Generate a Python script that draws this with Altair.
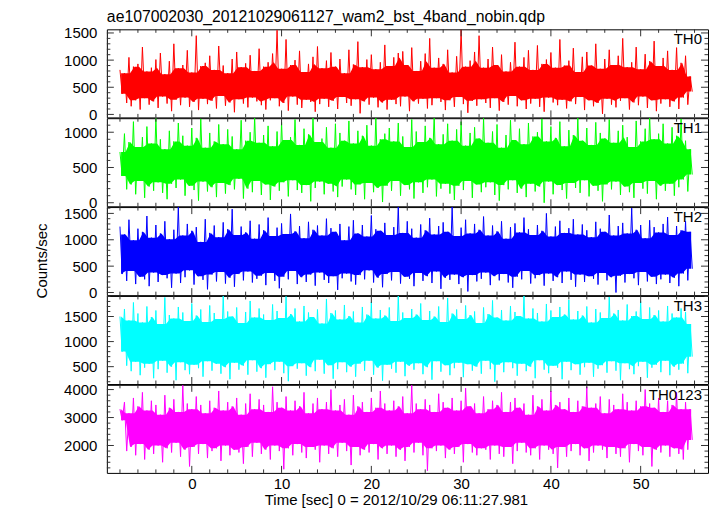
import altair as alt
import pandas as pd

FONT = "Liberation Sans"
TITLE = "ae107002030_20121029061127_wam2_bst_4band_nobin.qdp"
X_TITLE = "Time [sec] 0 = 2012/10/29 06:11:27.981"
Y_TITLE = "Counts/sec"
BANDS = ["TH0", "TH1", "TH2", "TH3", "TH0123"]
COLORS = ["#ff0000", "#00ff00", "#0000ff", "#00ffff", "#ff00ff"]

# light-curve bins: start time and bin width (sec)
T_START = -8.0
T_BIN = 0.25

# alternating local highs / lows read (estimated) from each panel
TH0_HIGH = [820, 760, 1050, 880, 930, 1240, 790, 860, 1010, 1130, 740, 980, 1300, 850, 910, 1180, 770, 1450, 890, 950,
            1080, 820, 1260, 900, 760, 1020, 1150, 870, 940, 1090, 800, 1210, 880, 960, 1120, 1550, 840, 1380, 910, 1000,
            1170, 780, 930, 1060, 1250, 850, 990, 1140, 880, 1020, 760, 1190, 920, 1340, 870, 1010, 1100, 830, 960, 1280,
            890, 1050, 1130, 1160, 910, 1230, 800, 980, 1120, 1400, 860, 1040, 930, 1190, 770, 1070, 1560, 880, 990, 1150,
            1450, 860, 1020, 1240, 910, 1100, 790, 960, 1330, 880, 1050, 1180, 820, 1270, 930, 1010, 1140, 860, 1380, 900,
            990, 1220, 780, 1060, 1150, 900, 1300, 840, 1020, 1190, 910, 1080, 1400, 870, 960, 1240, 830, 1110, 980, 1350,
            890, 1040, 1170, 820, 1230, 950, 1080, 700]
TH0_LOW = [380, 210, 150, 260, 90, 300, 180, 240, 120, 330, 200, 60, 270, 170, 310, 140, 230, 80, 290, 190,
           250, 110, 340, 160, 220, 40, 280, 200, 130, 310, 240, 170, 90, 260, 300, 150, 210, 70, 330, 180,
           120, 270, 230, 50, 190, 290, 140, 250, 100, 320, 210, 160, 280, 20, 240, 180, 310, 130, 220, 90,
           270, 190, 150, 330, 60, 240, 200, 290, 110, 170, 300, 230, 80, 260, 140, 320, 190, 30, 250, 160,
           280, 210, 120, 300, 70, 230, 180, 340, 150, 260, 100, 200, 290, 140, 50, 310, 220, 170, 270, 110,
           240, 190, 320, 80, 260, 150, 210, 10, 290, 180, 130, 250, 300, 90, 220, 170, 330, 120, 260, 60,
           200, 280, 140, 240, 100, 310, 180, 420]

TH1_HIGH = [720, 980, 860, 1150, 790, 930, 1080, 840, 1200, 900, 760, 1020, 870, 1130, 950, 810, 1060, 920, 1190, 780,
            990, 870, 1110, 830, 1040, 940, 760, 1170, 880, 1000, 1220, 850, 960, 1090, 800, 1010, 1140, 890, 930, 1180,
            820, 1050, 970, 1230, 860, 910, 1070, 780, 1120, 990, 880, 1160, 840, 1020, 950, 1100, 810, 1210, 900, 980,
            1060, 870, 1130, 940, 790, 1180, 1010, 860, 1090, 920, 1240, 830, 970, 1120, 880, 1040, 1150, 810, 990, 1070,
            910, 1200, 850, 1010, 1110, 780, 960, 1170, 890, 1050, 830, 1130, 940, 1000, 1190, 870, 1080, 920, 1150, 800,
            1030, 960, 1210, 880, 1060, 820, 1140, 990, 910, 1180, 850, 1020, 1100, 930, 790, 1160, 870, 1050, 1230, 900,
            980, 1120, 840, 1070, 950, 1190, 880, 760]
TH1_LOW = [380, 190, 260, 120, 310, 70, 230, 170, 290, 140, 50, 270, 210, 330, 100, 240, 180, 30, 300, 160,
           220, 80, 280, 130, 250, 190, 340, 60, 200, 150, 310, 110, 260, 40, 230, 170, 290, 90, 320, 180,
           140, 250, 20, 210, 300, 120, 270, 160, 80, 230, 330, 190, 110, 260, 50, 280, 150, 210, 10, 240,
           170, 310, 100, 250, 190, 60, 290, 140, 220, 330, 90, 200, 270, 130, 40, 240, 180, 310, 70, 260,
           150, 220, 290, 110, 30, 250, 190, 320, 140, 200, 80, 270, 160, 230, 0, 300, 120, 250, 180, 60,
           280, 210, 140, 320, 90, 240, 170, 20, 260, 190, 300, 110, 230, 150, 70, 280, 200, 130, 310, 50,
           240, 170, 270, 100, 220, 330, 160, 400]

TH2_HIGH = [1250, 1100, 1380, 990, 1210, 1150, 1450, 1040, 1280, 1120, 1350, 1010, 1190, 1620, 1080, 1300, 1170, 1240, 960, 1390,
            1130, 1270, 1050, 1330, 1200, 1580, 1090, 1250, 1140, 1360, 1020, 1290, 1180, 1420, 1070, 1230, 1310, 1110, 1490, 1160,
            1260, 1030, 1340, 1190, 1270, 1080, 1400, 1220, 1150, 1300, 990, 1250, 1370, 1120, 1280, 1060, 1460, 1200, 1170, 1320,
            1090, 1240, 1640, 1130, 1350, 1210, 1040, 1290, 1180, 1410, 1100, 1260, 1330, 1150, 1630, 1070, 1230, 1380, 1120, 1300,
            1190, 1440, 1080, 1270, 1160, 1350, 1020, 1240, 1310, 1140, 1420, 1200, 1090, 1280, 1170, 1500, 1060, 1250, 1360, 1130,
            1220, 1390, 1100, 1290, 1180, 1050, 1340, 1210, 1150, 1470, 1080, 1260, 1320, 1120, 1600, 1190, 1280, 1030, 1370, 1240,
            1140, 1300, 1430, 1090, 1260, 1180, 1350, 1150]
TH2_LOW = [350, 220, 410, 160, 300, 250, 120, 380, 200, 330, 270, 90, 360, 180, 290, 420, 150, 310, 240, 60,
           340, 210, 390, 170, 280, 110, 350, 230, 400, 190, 260, 320, 140, 370, 220, 80, 300, 250, 410, 160,
           290, 200, 340, 130, 380, 240, 180, 310, 50, 270, 360, 210, 150, 330, 250, 420, 190, 280, 100, 350,
           230, 390, 170, 300, 260, 120, 370, 220, 310, 180, 400, 70, 280, 240, 340, 160, 290, 20, 330, 210,
           260, 380, 140, 310, 230, 350, 190, 90, 300, 250, 410, 170, 270, 330, 130, 360, 220, 290, 180, 400,
           240, 110, 340, 200, 310, 260, 150, 370, 230, 290, 0, 320, 190, 350, 270, 140, 390, 210, 300, 160,
           250, 340, 180, 280, 120, 360, 230, 450]

TH3_HIGH = [1500, 1650, 1420, 1780, 1560, 1380, 1700, 1490, 1620, 1350, 1880, 1530, 1460, 1690, 1580, 1410, 1760, 1520, 1640, 1390,
            1720, 1570, 1450, 1930, 1600, 1500, 1680, 1370, 1590, 1810, 1480, 1660, 1540, 1430, 1740, 1610, 1470, 1900, 1550, 1660,
            1400, 1710, 1580, 1490, 1640, 1360, 1850, 1570, 1620, 1440, 1730, 1510, 1600, 1380, 1690, 1540, 1790, 1460, 1630, 1520,
            1680, 1410, 1920, 1580, 1470, 1650, 1540, 1760, 1430, 1610, 1500, 1700, 1390, 1870, 1560, 1640, 1450, 1720, 1530, 1600,
            1370, 1680, 1550, 1820, 1480, 1630, 1420, 1710, 1590, 1510, 1940, 1460, 1660, 1570, 1400, 1750, 1620, 1490, 1690, 1540,
            1830, 1440, 1610, 1520, 1700, 1380, 1650, 1580, 1470, 1890, 1560, 1630, 1420, 1740, 1510, 1600, 1800, 1450, 1680, 1530,
            1620, 1400, 1710, 1560, 1480, 1660, 1590, 1350]
TH3_LOW = [800, 520, 410, 600, 330, 480, 560, 270, 450, 620, 380, 500, 230, 590, 430, 350, 540, 470, 300, 610,
           420, 560, 360, 490, 250, 580, 440, 520, 340, 630, 400, 470, 280, 550, 430, 600, 370, 210, 510, 460,
           570, 320, 490, 410, 640, 360, 530, 260, 450, 590, 390, 500, 300, 560, 420, 620, 340, 480, 220, 540,
           460, 380, 600, 310, 520, 440, 570, 350, 490, 240, 610, 400, 530, 330, 470, 580, 290, 550, 420, 500,
           360, 620, 450, 200, 540, 390, 590, 470, 320, 560, 410, 500, 270, 630, 440, 370, 520, 480, 250, 600,
           430, 550, 340, 490, 580, 300, 460, 530, 380, 610, 420, 230, 570, 450, 350, 510, 600, 280, 480, 540,
           390, 620, 330, 500, 440, 560, 370, 700]

TH0123_HIGH = [3300, 3550, 3150, 3700, 3400, 3900, 3250, 3600, 3450, 3100, 3800, 3350, 3650, 3200, 4150, 3500, 3300, 3750, 3450, 3150,
               3600, 3350, 3950, 3250, 3550, 3400, 3700, 3100, 3500, 3850, 3300, 3650, 3450, 3200, 4100, 3550, 3350, 3750, 3250, 3600,
               3400, 3900, 3150, 3500, 3700, 3300, 3550, 4000, 3250, 3450, 3650, 3100, 3800, 3400, 3550, 3200, 3700, 3350, 3950, 3500,
               3250, 3600, 3400, 3750, 3150, 4150, 3500, 3300, 3650, 3450, 3200, 3850, 3550, 3350, 3700, 3250, 3600, 4050, 3400, 3500,
               3150, 3750, 3300, 3600, 3450, 3900, 3200, 3550, 3700, 3350, 3500, 3100, 3800, 3400, 3650, 3250, 3950, 3450, 3550, 3300,
               3700, 3200, 3600, 3400, 4100, 3350, 3500, 3750, 3150, 3650, 3450, 3300, 3850, 3550, 3250, 3600, 3400, 4000, 3500, 3350,
               3700, 3200, 3600, 3450, 3900, 3300, 3550, 3300]
TH0123_LOW = [2900, 1800, 1950, 1650, 2050, 1500, 1850, 1700, 2000, 1400, 1900, 1750, 2100, 1600, 1850, 1250, 1950, 1700, 2050, 1550,
              1800, 1900, 1450, 2000, 1650, 1850, 1750, 1350, 1950, 1600, 2100, 1700, 1850, 1500, 2000, 1800, 1150, 1900, 1650, 2050,
              1750, 1550, 1950, 1850, 1400, 2000, 1700, 1900, 1600, 2100, 1800, 1300, 1950, 1650, 1850, 1750, 2050, 1500, 1900, 1700,
              2000, 1600, 1850, 1450, 1950, 1750, 2100, 1650, 1100, 1900, 1800, 2000, 1550, 1850, 1700, 1950, 1400, 2050, 1750, 1650,
              1900, 1850, 1500, 2000, 1700, 1600, 1950, 1350, 1800, 2100, 1750, 1650, 1900, 1500, 2000, 1850, 1700, 1200, 1950, 1600,
              1800, 2050, 1650, 1900, 1450, 1750, 2000, 1850, 1550, 1950, 1700, 1600, 1900, 1400, 2050, 1800, 1650, 1950, 1250, 1850,
              1750, 2000, 1600, 1900, 1700, 1500, 1850, 2200]

HIGHS = [TH0_HIGH, TH1_HIGH, TH2_HIGH, TH3_HIGH, TH0123_HIGH]
LOWS = [TH0_LOW, TH1_LOW, TH2_LOW, TH3_LOW, TH0123_LOW]

X_DOMAIN = [-9.46, 57.5]
X_MAJOR = [0, 10, 20, 30, 40, 50]
X_MINOR = [-8, -6, -4, -2, 2, 4, 6, 8, 12, 14, 16, 18, 22, 24, 26, 28, 32, 34, 36, 38, 42, 44, 46, 48, 52, 54, 56]

Y_DOMAINS = [[-55, 1567], [-50, 1199], [-50, 1620], [154, 1910], [1020, 4170]]
Y_MAJOR = [[0, 500, 1000, 1500], [0, 500, 1000], [0, 500, 1000, 1500], [500, 1000, 1500], [2000, 3000, 4000]]
Y_MINOR = [
    [100, 200, 300, 400, 600, 700, 800, 900, 1100, 1200, 1300, 1400],
    [100, 200, 300, 400, 600, 700, 800, 900, 1100],
    [100, 200, 300, 400, 600, 700, 800, 900, 1100, 1200, 1300, 1400, 1600],
    [200, 300, 400, 600, 700, 800, 900, 1100, 1200, 1300, 1400, 1600, 1700, 1800, 1900],
    [1200, 1400, 1600, 1800, 2200, 2400, 2600, 2800, 3200, 3400, 3600, 3800],
]

W = 602
H = 88.2
MAJ = 7
MIN = 3.5
TICK_COLOR = "#333333"


def series_frame(high, low):
    rows = []
    for i, (h, l) in enumerate(zip(high, low)):
        rows.append({"t": T_START + T_BIN * (2 * i), "c": h})
        rows.append({"t": T_START + T_BIN * (2 * i + 1), "c": l})
    return pd.DataFrame(rows)


def pair_frame(high, low):
    n = min(len(high), len(low))
    return pd.DataFrame({
        "t": [T_START + T_BIN * (2 * i + 0.5) for i in range(n)],
        "h": high[:n],
        "l": low[:n],
    })


def text_layer(txt, x, y, align="left", angle=0, size=15, baseline="alphabetic"):
    mark_args = dict(align=align, baseline=baseline, fontSize=size, font=FONT, color="black")
    if angle:
        mark_args["angle"] = angle
    return alt.Chart(pd.DataFrame({"label": [txt]})).mark_text(**mark_args).encode(
        x=alt.value(x), y=alt.value(y), text="label:N")


def panel(k):
    xs = alt.Scale(domain=X_DOMAIN, nice=False, zero=False, padding=0)
    ys = alt.Scale(domain=Y_DOMAINS[k], nice=False, zero=False, padding=0)
    last = k == len(BANDS) - 1

    if last:
        x_axis = alt.Axis(
            values=X_MAJOR, format="d", ticks=False, domain=False, grid=False, labelPadding=4,
            labelFontSize=15, labelFlush=False, labelFont=FONT, labelColor="black", title="")
    else:
        x_axis = None

    y_axis = alt.Axis(values=Y_MAJOR[k], format="d", ticks=False, domain=False, grid=False,
                      labelPadding=10, labelFontSize=15, labelFont=FONT, labelColor="black",
                      labelFlush=False, title="")

    def X(field="t"):
        return alt.X(f"{field}:Q", scale=xs, axis=x_axis)

    def Y(field):
        return alt.Y(f"{field}:Q", scale=ys, axis=y_axis)

    # dense core of the light curve
    core = alt.Chart(pair_frame(HIGHS[k], LOWS[k])).transform_window(
        core_hi="min(h)", core_lo="max(l)", frame=[-1, 1]
    ).mark_area(color=COLORS[k], opacity=1, clip=True).encode(
        x=X(), y=Y("core_hi"), y2="core_lo:Q")

    line = alt.Chart(series_frame(HIGHS[k], LOWS[k])).mark_line(
        color=COLORS[k], strokeWidth=1, clip=True
    ).encode(x=X(), y=Y("c"))

    layers = [core, line]
    for vals, L in ((X_MAJOR, MAJ), (X_MINOR, MIN)):
        base = alt.Chart(pd.DataFrame({"t": vals})).mark_rule(color=TICK_COLOR, strokeWidth=1)
        layers.append(base.encode(x=X(), y=alt.value(0), y2=alt.value(L)))
        layers.append(base.encode(x=X(), y=alt.value(H), y2=alt.value(H - L)))
    for vals, L in ((Y_MAJOR[k], MAJ), (Y_MINOR[k], MIN)):
        base = alt.Chart(pd.DataFrame({"c": vals})).mark_rule(color=TICK_COLOR, strokeWidth=1)
        layers.append(base.encode(y=Y("c"), x=alt.value(0), x2=alt.value(L)))
        layers.append(base.encode(y=Y("c"), x=alt.value(W), x2=alt.value(W - L)))

    layers.append(text_layer(BANDS[k], W - 6, 15, align="right"))
    if k == 0:
        layers.append(text_layer(TITLE, 0, -7.5, size=15.8))
    if k == 2:
        layers.append(text_layer(Y_TITLE, -65, 54, align="center", angle=270, baseline="middle"))
    if last:
        layers.append(text_layer(X_TITLE, 290, H + 32.5, align="center"))

    return alt.layer(*layers).properties(width=W, height=H)


chart = alt.vconcat(*[panel(k) for k in range(len(BANDS))], spacing=0, bounds="flush").properties(
    padding={"left": 26, "top": 0, "right": 0, "bottom": 0}
).configure_view(stroke="black", strokeWidth=1).configure_concat(spacing=0)

chart.save("out.html", embed_options={"renderer": "svg", "actions": False})
